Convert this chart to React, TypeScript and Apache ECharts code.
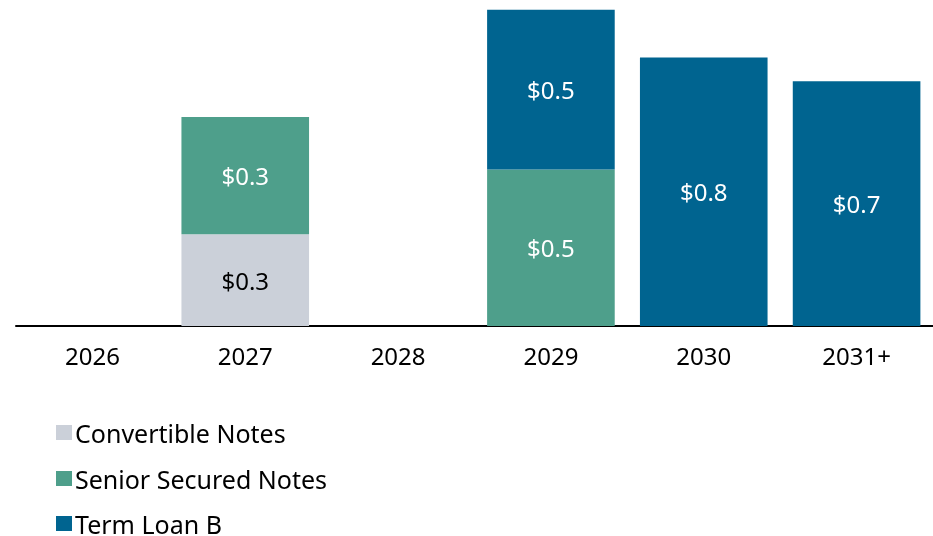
import React, { useEffect, useRef } from "react";
import * as echarts from "echarts";

const categories = ["2026", "2027", "2028", "2029", "2030", "2031+"];
const seriesNames = ["Convertible Notes", "Senior Secured Notes", "Term Loan B"];
const convertibleNotes = [null, 0.27, null, null, null, null];
const seniorSecuredNotes = [null, 0.345, null, 0.46, null, null];
const termLoanB = [null, null, null, 0.47, 0.79, 0.72];

const FONT = "'Noto Sans', sans-serif";

export default function App() {
  const ref = useRef<HTMLDivElement>(null);
  useEffect(() => {
    if (!ref.current) return;
    const chart = echarts.init(ref.current, null, { renderer: "svg" });
    const label = (color: string) => ({
      show: true,
      position: "inside",
      color,
      fontSize: 24,
      fontFamily: FONT,
      formatter: (p: any) => "$" + Number(p.value).toFixed(1),
    });
    const mk = (name: string, data: any[], color: string, lc: string) => ({
      name,
      type: "bar",
      stack: "total",
      data,
      barCategoryGap: "16.5%",
      itemStyle: { color },
      label: label(lc),
      emphasis: { disabled: true },
    });
    const legendTops = [420, 466, 511];
    chart.setOption({
      animation: false,
      textStyle: { fontFamily: FONT },
      grid: { left: 16, right: 0, top: 3, bottom: 210, containLabel: false },
      legend: seriesNames.map((n, i) => ({
        orient: "vertical",
        left: 56,
        top: legendTops[i],
        padding: 0,
        itemWidth: 16,
        itemHeight: 15,
        icon: "rect",
        textStyle: {
          fontSize: 25,
          lineHeight: 24,
          color: "#000",
          fontFamily: FONT,
          padding: [0, 0, 0, -2],
        },
        data: [n],
      })),
      xAxis: {
        type: "category",
        data: categories,
        axisLine: { lineStyle: { color: "#000", width: 2 } },
        axisTick: { show: false },
        axisLabel: { color: "#000", fontSize: 24, fontFamily: FONT, margin: 17 },
      },
      yAxis: {
        type: "value",
        min: 0,
        max: 0.95,
        show: false,
        splitLine: { show: false },
      },
      series: [
        mk(seriesNames[0], convertibleNotes, "#CBD0D9", "#000"),
        mk(seriesNames[1], seniorSecuredNotes, "#4E9F8B", "#fff"),
        mk(seriesNames[2], termLoanB, "#006490", "#fff"),
      ],
    });
    return () => chart.dispose();
  }, []);
  return (
    <div
      ref={ref}
      style={{ position: "fixed", left: 0, top: 0, width: 933, height: 536 }}
    />
  );
}
